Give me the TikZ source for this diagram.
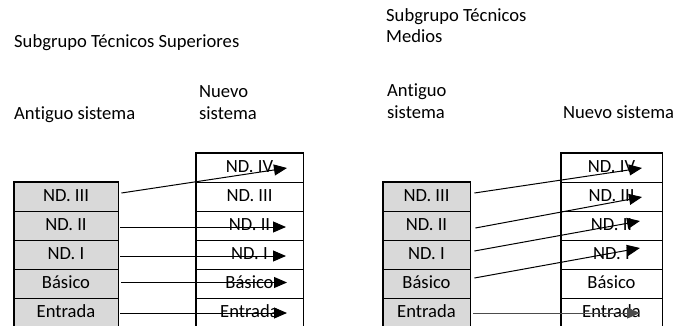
\documentclass[tikz,border=0pt]{standalone}
\usepackage{fontspec}
\setmainfont[Ligatures=NoCommon]{Carlito}
\usetikzlibrary{arrows.meta,calc}
\begin{document}
\begin{tikzpicture}[x=1pt,y=-1pt,
  font=\fontsize{18.6}{22}\selectfont,
  lbl/.style={anchor=base west, inner sep=0pt},
  cell/.style={draw, line width=0.8pt, minimum height=29pt, inner sep=0pt,
    text height=12.8pt, text depth=3.6pt},
  oldcell/.style={cell, fill=black!15},
  newcell/.style={cell, fill=white},
  frame/.style={draw, line width=1.8pt},
  arr/.style={line width=1pt, -{Triangle[length=13pt,width=11pt]}}]
\useasboundingbox (0,0) rectangle (673,325);
\clip (0,0) rectangle (673,325);
% ---------- headings ----------
\node[lbl] (h1) at (14,47) {Subgrupo Técnicos Superiores};
\node[lbl] (h2) at (386,21.5) {Subgrupo Técnicos};
\node[lbl] (h2b) at (386,42.5) {Medios};
\node[lbl] (as1) at (14,119) {Antiguo sistema};
\node[lbl] (ns1a) at (199,97) {Nuevo};
\node[lbl] (ns1b) at (199,119) {sistema};
\node[lbl] (as2a) at (387,96) {Antiguo};
\node[lbl] (as2b) at (387,118.5) {sistema};
\node[lbl] (ns2) at (563,118.5) {Nuevo sistema};
% ---------- group A: old ----------
\begin{scope}[every node/.append style={minimum width=104pt}]
\node[oldcell] (aL1) at (66,196.5) {ND. III};
\node[oldcell] (aL2) at (66,225.5) {ND. II};
\node[oldcell] (aL3) at (66,254.5) {ND. I};
\node[oldcell] (aL4) at (66,283.5) {Básico};
\node[oldcell] (aL5) at (66,312.5) {Entrada};
\end{scope}
\draw[frame] (aL5.south west) -- (aL1.north west) -- (aL1.north east) -- (aL5.south east);
% ---------- group A: new ----------
\begin{scope}[every node/.append style={minimum width=107pt}]
\node[newcell] (aR0) at (249.5,167.5) {ND. IV};
\node[newcell] (aR1) at (249.5,196.5) {ND. III};
\node[newcell] (aR2) at (249.5,225.5) {ND. II};
\node[newcell] (aR3) at (249.5,254.5) {ND. I};
\node[newcell] (aR4) at (249.5,283.5) {Básico};
\node[newcell] (aR5) at (249.5,312.5) {Entrada};
\end{scope}
\draw[frame] (aR5.south west) -- (aR0.north west) -- (aR0.north east) -- (aR5.south east);
% ---------- group B: old ----------
\begin{scope}[every node/.append style={minimum width=87pt}]
\node[oldcell] (bL1) at (426.5,196.5) {ND. III};
\node[oldcell] (bL2) at (426.5,225.5) {ND. II};
\node[oldcell] (bL3) at (426.5,254.5) {ND. I};
\node[oldcell] (bL4) at (426.5,283.5) {Básico};
\node[oldcell] (bL5) at (426.5,312.5) {Entrada};
\end{scope}
\draw[frame] (bL5.south west) -- (bL1.north west) -- (bL1.north east) -- (bL5.south east);
% ---------- group B: new ----------
\begin{scope}[every node/.append style={minimum width=101pt}]
\node[newcell] (bR0) at (611.5,167.5) {ND. IV};
\node[newcell] (bR1) at (611.5,196.5) {ND. III};
\node[newcell] (bR2) at (611.5,225.5) {ND. II};
\node[newcell] (bR3) at (611.5,254.5) {ND. I};
\node[newcell] (bR4) at (611.5,283.5) {Básico};
\node[newcell] (bR5) at (611.5,312.5) {Entrada};
\end{scope}
\draw[frame] (bR5.south west) -- (bR0.north west) -- (bR0.north east) -- (bR5.south east);
% ---------- arrow end points ----------
\coordinate (ta0) at (287,168);
\coordinate (ta2) at (286,227);
\coordinate (ta3) at (286,256);
\coordinate (ta4) at (287,282.5);
\coordinate (ta5) at (287,313);
\coordinate (tb0) at (642,168);
\coordinate (tb1) at (642,197);
\coordinate (tb2) at (640,221);
\coordinate (tb3) at (640,248);
\coordinate (tb5) at (640,313);
% ---------- arrows group A ----------
\draw[arr] ($(aL1.east)+(3,-3.5)$) -- (ta0);
\draw[arr] ($(aL2.east)+(2,1.5)$) -- (ta2);
\draw[arr] ($(aL3.east)+(2,1.5)$) -- (ta3);
\draw[arr] ($(aL4.east)+(3,-1)$) -- (ta4);
\draw[arr] ($(aL5.east)+(2,0.5)$) -- (ta5);
% ---------- arrows group B ----------
\draw[arr] ($(bL1.east)+(4,-3.5)$) -- (tb0);
\draw[arr] ($(bL2.east)+(5,2.5)$) -- (tb1);
\draw[arr] ($(bL3.east)+(4,-3.5)$) -- (tb2);
\draw[arr] ($(bL4.east)+(4,-5.5)$) -- (tb3);
\draw[arr, draw=black!70, fill=black!70] ($(bL5.east)+(3,0.5)$) -- (tb5);
\end{tikzpicture}
\end{document}
